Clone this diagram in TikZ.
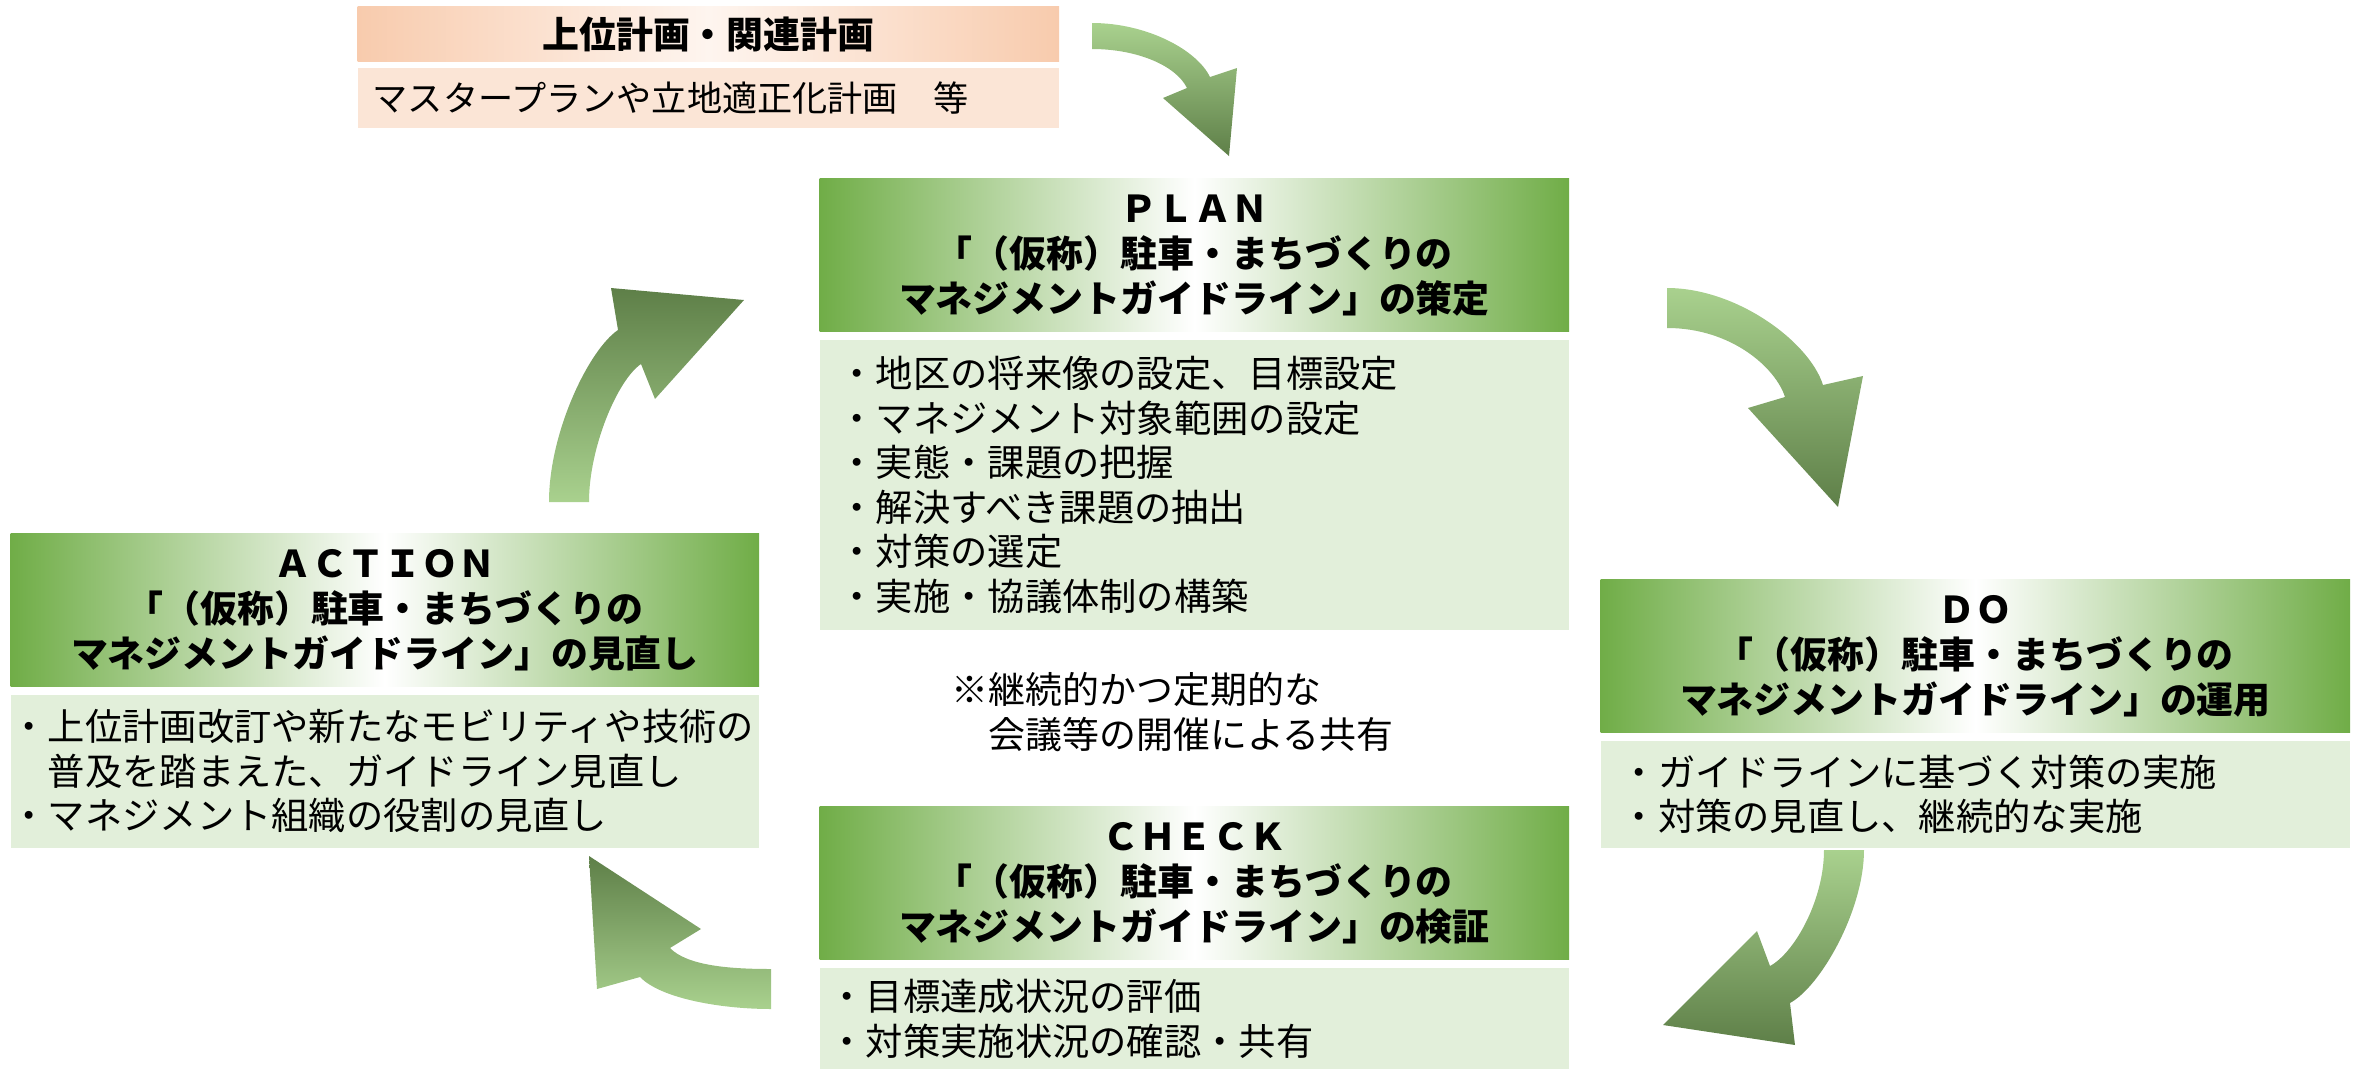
\documentclass[tikz,border=0pt]{standalone}
\usepackage{fontspec}
\setmainfont{Noto Sans CJK JP}
\definecolor{hdrgreen}{HTML}{70AD47}
\definecolor{bodygreen}{HTML}{E2EFDA}
\definecolor{peach}{HTML}{F8CBAD}
\definecolor{peachmid}{HTML}{FEF5EF}
\definecolor{peachlight}{HTML}{FBE5D6}
\definecolor{arrowlight}{HTML}{A9D18E}
\definecolor{arrowdark}{HTML}{5E7F48}
\begin{document}
\begin{tikzpicture}[x=0.01cm,y=-0.01cm,
  hdr/.style={anchor=north west, inner sep=0pt, minimum width=7.49cm, minimum height=1.53cm,
    left color=hdrgreen, right color=hdrgreen, middle color=white, align=center,
    font=\bfseries\fontsize{10.5pt}{12.8pt}\selectfont},
  bodybox/.style={anchor=north west, inner ysep=0pt, fill=bodygreen, align=left,
    font=\fontsize{10.6pt}{12.66pt}\selectfont},
  arrdown/.style={top color=arrowlight, bottom color=arrowdark},
  arrup/.style={top color=arrowdark, bottom color=arrowlight}
]
\useasboundingbox (0,0) rectangle (2359,1069);

% upper-level plans
\node[anchor=north west, inner sep=0pt, minimum width=7.01cm, minimum height=0.55cm,
  left color=peach, right color=peach, middle color=peachmid,
  font=\bfseries\fontsize{10.5pt}{12.8pt}\selectfont] (tophdr) at (357,6) {上位計画・関連計画};
\node[anchor=north west, inner ysep=0pt, inner xsep=0.15cm, minimum height=0.60cm, text width=6.71cm,
  fill=peachlight, align=left, font=\fontsize{10pt}{12.8pt}\selectfont] (topbody) at (357,67)
  {マスタープランや立地適正化計画　等};

% PLAN
\node[hdr] (planhdr) at (819,178) {ＰＬＡＮ\\「（仮称）駐車・まちづくりの\\マネジメントガイドライン」の策定};
\node[bodybox, inner xsep=0.19cm, text width=7.11cm, minimum height=2.90cm] (planbody) at (819,339)
  {・地区の将来像の設定、目標設定\\・マネジメント対象範囲の設定\\・実態・課題の把握\\・解決すべき課題の抽出\\・対策の選定\\・実施・協議体制の構築};

% DO
\node[hdr] (dohdr) at (1600,579) {ＤＯ\\「（仮称）駐車・まちづくりの\\マネジメントガイドライン」の運用};
\node[bodybox, inner xsep=0.20cm, text width=7.09cm, minimum height=1.07cm] (dobody) at (1600,740)
  {・ガイドラインに基づく対策の実施\\・対策の見直し、継続的な実施};

% CHECK
\node[hdr] (checkhdr) at (819,806) {ＣＨＥＣＫ\\「（仮称）駐車・まちづくりの\\マネジメントガイドライン」の検証};
\node[bodybox, inner xsep=0.09cm, text width=7.31cm, minimum height=1.02cm] (checkbody) at (819,967)
  {・目標達成状況の評価\\・対策実施状況の確認・共有};

% ACTION
\node[hdr, minimum width=7.48cm] (acthdr) at (10,533) {ＡＣＴＩＯＮ\\「（仮称）駐車・まちづくりの\\マネジメントガイドライン」の見直し};
\node[bodybox, inner xsep=0cm, text width=7.48cm, minimum height=1.53cm] (actbody) at (10,694)
  {・上位計画改訂や新たなモビリティや技術の\\　普及を踏まえた、ガイドライン見直し\\・マネジメント組織の役割の見直し};

% note
\node[anchor=north west, inner sep=0pt, align=left, font=\fontsize{10.5pt}{12.8pt}\selectfont] (note) at (951,672)
  {※継続的かつ定期的な\\　会議等の開催による共有};

% arrows
\path[arrdown] (1092,23) .. controls (1147,23) and (1197,50) .. (1210,77) -- (1237,68) -- (1229,156)
  -- (1163,98) -- (1187,88) .. controls (1176,65.5) and (1137,49) .. (1092,49) -- cycle;
\path[arrdown] (1667,288) .. controls (1737,288) and (1809.5,342) .. (1823,385) -- (1863,376) -- (1838,507)
  -- (1748,408) -- (1785,397) .. controls (1776,368.4) and (1732,328) .. (1667,328) -- cycle;
\path[arrdown] (1864,850) .. controls (1864,910) and (1820.8,986.3) .. (1790,1003) -- (1795,1045) -- (1663,1025)
  -- (1757,931) -- (1770,966) .. controls (1794.6,952.7) and (1824,900) .. (1824,850) -- cycle;
\path[arrup] (771,969) .. controls (731,969) and (687.4,966) .. (670,948) -- (701,929) -- (589,856)
  -- (597,989) -- (640,977) .. controls (660.9,998.6) and (721,1009) .. (771,1009) -- cycle;
\path[arrup] (549,502) .. controls (549,432) and (589,349.6) .. (618,330) -- (611,288) -- (744,300)
  -- (655,399) -- (641,364) .. controls (617.8,379.7) and (589,447) .. (589,502) -- cycle;
\end{tikzpicture}
\end{document}
